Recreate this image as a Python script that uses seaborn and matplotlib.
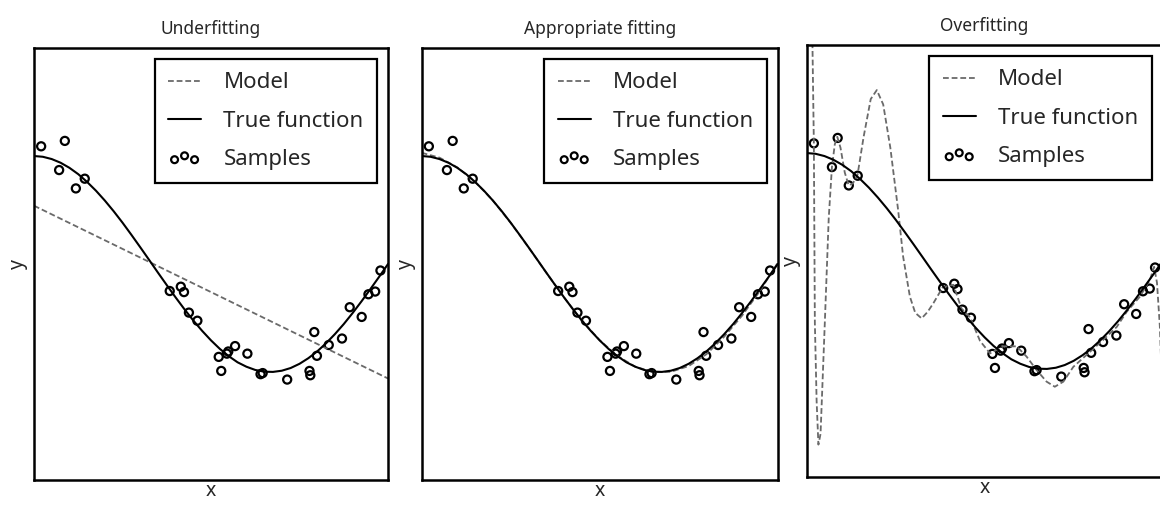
import numpy as np
import pandas as pd
import matplotlib
matplotlib.use("Agg")
import matplotlib.pyplot as plt
import seaborn as sns

# ---- data ----
titles = ["Underfitting", "Appropriate fitting", "Overfitting"]

sample_x = [0.0202, 0.0710, 0.0871, 0.1183, 0.1434, 0.3834, 0.4147, 0.4237, 0.4376, 0.4615,
            0.5218, 0.5289, 0.5449, 0.5488, 0.5680, 0.6028, 0.6399, 0.6459, 0.7152, 0.7782,
            0.7805, 0.7917, 0.7992, 0.8326, 0.8700, 0.8918, 0.9256, 0.9447, 0.9637, 0.9786]
sample_y = [1.09, 0.87, 1.14, 0.70, 0.79, -0.25, -0.21, -0.26, -0.45, -0.525,
            -0.86, -0.99, -0.83, -0.81, -0.76, -0.83, -1.02, -1.01, -1.07, -0.99,
            -1.03, -0.63, -0.85, -0.75, -0.69, -0.40, -0.49, -0.28, -0.255, -0.06]

true_x = [0.0, 0.025, 0.05, 0.075, 0.1, 0.125, 0.15, 0.175, 0.2, 0.225, 0.25, 0.275, 0.3,
          0.325, 0.35, 0.375, 0.4, 0.425, 0.45, 0.475, 0.5, 0.525, 0.55, 0.575, 0.6, 0.625,
          0.65, 0.675, 0.7, 0.725, 0.75, 0.775, 0.8, 0.825, 0.85, 0.875, 0.9, 0.925, 0.95,
          0.975, 1.0]
true_y = [1.000, 0.993, 0.972, 0.938, 0.891, 0.832, 0.760, 0.679, 0.588, 0.489, 0.383, 0.271,
          0.156, 0.039, -0.079, -0.195, -0.309, -0.419, -0.523, -0.619, -0.707, -0.786,
          -0.853, -0.910, -0.951, -0.981, -0.997, -0.999, -0.988, -0.963, -0.924, -0.872,
          -0.809, -0.734, -0.649, -0.556, -0.454, -0.346, -0.233, -0.118, 0.0]

model1_x = [0.0, 1.0]
model1_y = [0.54, -1.06]

model4_x = [0.0, 0.05, 0.1, 0.15, 0.2, 0.25, 0.3, 0.35, 0.4, 0.45, 0.5, 0.55, 0.6, 0.65,
            0.7, 0.75, 0.8, 0.85, 0.9, 0.95, 1.0]
model4_y = [1.03, 0.985, 0.895, 0.762, 0.588, 0.382, 0.155, -0.080, -0.310, -0.522, -0.706,
            -0.851, -0.951, -1.000, -0.998, -0.945, -0.835, -0.672, -0.478, -0.250, 0.01]

model15_x = [0.0, 0.012, 0.0202, 0.023, 0.028, 0.033, 0.039, 0.051, 0.062, 0.071, 0.079,
             0.086, 0.095, 0.107, 0.118, 0.130, 0.143, 0.160, 0.180, 0.197, 0.215, 0.235,
             0.257, 0.271, 0.290, 0.305, 0.323, 0.340, 0.356, 0.382, 0.412, 0.435, 0.459,
             0.487, 0.515, 0.552, 0.590, 0.618, 0.646, 0.674, 0.697, 0.721, 0.749, 0.796,
             0.833, 0.871, 0.899, 0.936, 0.964, 0.976, 0.984, 0.992, 1.0]
model15_y = [8.0, 3.0, 1.09, -0.57, -1.30, -1.70, -1.60, -0.57, 0.40, 0.87, 1.08,
             1.15, 1.05, 0.82, 0.70, 0.72, 0.80, 1.15, 1.50, 1.583, 1.45, 1.05,
             0.47, 0.04, -0.33, -0.48, -0.531, -0.47, -0.39, -0.244, -0.22, -0.44, -0.52,
             -0.74, -0.855, -0.79, -0.79, -0.886, -1.01, -1.117, -1.164, -1.117, -0.98, -0.84,
             -0.73, -0.61, -0.47, -0.33, -0.176, -0.053, -0.20, -0.60, -1.30]

models = [(model1_x, model1_y), (model4_x, model4_y), (model15_x, model15_y)]

# ---- style ----
sns.set_style("white")
plt.rcParams["font.family"] = ["Noto Sans", "DejaVu Sans"]

fig = plt.figure(figsize=(11.6, 5.05), dpi=100)
positions = [
    [0.0293, 0.0495, 0.3052, 0.8554],
    [0.3635, 0.0495, 0.3069, 0.8554],
    [0.6954, 0.0554, 0.3069, 0.8554],
]

samples_df = pd.DataFrame({"x": sample_x, "y": sample_y})
true_df = pd.DataFrame({"x": true_x, "y": true_y})

for i, pos in enumerate(positions):
    ax = fig.add_axes(pos)
    mx, my = models[i]
    mdf = pd.DataFrame({"x": mx, "y": my})
    sns.lineplot(data=mdf, x="x", y="y", ax=ax, color="#6a6a6a", lw=1.3,
                 linestyle=(0, (3.2, 1.6)), estimator=None, sort=False, label="Model")
    sns.lineplot(data=true_df, x="x", y="y", ax=ax, color="black", lw=1.5,
                 estimator=None, label="True function")
    sns.scatterplot(data=samples_df, x="x", y="y", ax=ax, facecolor="none",
                    edgecolor="black", linewidth=1.6, s=34, marker="o", label="Samples")
    ax.set_xlim(0, 1)
    ax.set_ylim(-2, 2)
    ax.set_xticks([])
    ax.set_yticks([])
    ax.set_xlabel("x", fontsize=14, labelpad=1)
    ax.set_ylabel("y", fontsize=14, labelpad=4)
    ax.set_title(titles[i], fontsize=12.5, pad=10)
    for sp in ax.spines.values():
        sp.set_color("black")
        sp.set_linewidth(1.8)
    leg = ax.legend(loc="upper right", fontsize=16, frameon=True, fancybox=False,
                    edgecolor="black", framealpha=1, scatterpoints=3,
                    scatteryoffsets=[0.35, 0.6, 0.35], markerscale=0.85,
                    handlelength=1.5, handletextpad=1.0, labelspacing=0.78,
                    borderpad=0.6, borderaxespad=0.5)
    leg.get_frame().set_linewidth(1.6)

fig.savefig("out.png", dpi=100)
